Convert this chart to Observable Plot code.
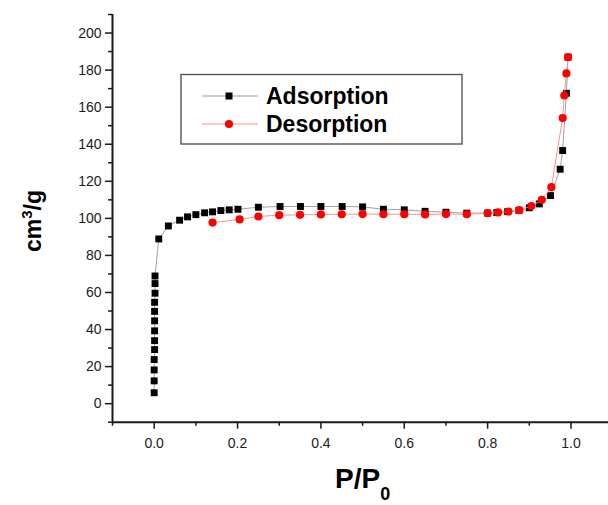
<!DOCTYPE html>
<html>
<head>
<meta charset="utf-8">
<script src="https://cdn.jsdelivr.net/npm/d3@7"></script>
<script src="https://cdn.jsdelivr.net/npm/@observablehq/plot@0.6"></script>
<style>
  html, body { margin: 0; padding: 0; background: #fff; overflow: hidden; }
  #chart { width: 608px; height: 505px; }
</style>
</head>
<body>
<div id="chart"></div>
<script>
// Adsorption branch (P/P0, cm3/g)
const adsP = [0.000,0.000,0.000,0.000,0.001,0.001,0.001,0.001,0.001,0.001,0.002,0.002,0.002,
  0.011,0.034,0.061,0.080,0.100,0.121,0.140,0.160,0.180,0.201,0.250,0.302,0.351,0.400,0.451,
  0.500,0.550,0.600,0.650,0.700,0.750,0.800,0.822,0.848,0.875,0.900,0.924,0.951,0.974,0.980,0.989,0.993];
const adsV = [5.9,12.3,18.2,23.8,29.2,34.0,39.3,44.7,49.8,54.7,59.6,64.8,68.9,
  88.9,95.9,99.0,100.8,102.0,103.0,103.5,104.2,104.6,104.9,106.0,106.4,106.4,106.4,106.4,
  106.2,104.9,104.6,103.8,103.3,102.8,102.8,103.1,103.6,104.3,105.7,107.8,112.3,126.5,136.6,167.5,187.0];
// Desorption branch
const desP = [0.993,0.989,0.984,0.980,0.953,0.930,0.905,0.876,0.850,0.825,0.800,0.750,0.700,0.650,
  0.600,0.550,0.500,0.450,0.400,0.350,0.300,0.250,0.205,0.140];
const desV = [187.0,178.2,166.3,154.1,116.8,110.0,106.6,104.4,103.7,103.2,102.8,102.2,102.3,102.1,
  102.2,102.2,102.3,102.2,102.1,101.9,101.7,101.0,99.4,97.7];

const xMajor = [0, 0.2, 0.4, 0.6, 0.8, 1.0];
const xMinor = [-0.1, 0.1, 0.3, 0.5, 0.7, 0.9];
const yMajor = [0, 20, 40, 60, 80, 100, 120, 140, 160, 180, 200];
const yMinor = [-10, 10, 30, 50, 70, 90, 110, 130, 150, 170, 190, 210];
const seriesNames = ["Adsorption", "Desorption"];

const ads = adsP.map((p, i) => ({p, v: adsV[i]}));
const des = desP.map((p, i) => ({p, v: desV[i]}));

const font = "'Liberation Sans', Arial, sans-serif";
const ink = "#1a1a1a";

const svg = Plot.plot({
  width: 608,
  height: 505,
  marginLeft: 112,
  marginRight: 0,
  marginTop: 14,
  marginBottom: 83.3,
  style: {fontFamily: font, fontSize: "14px", color: ink, background: "#fff", overflow: "hidden"},
  x: {domain: [-0.1, 1.09]},
  y: {domain: [-10, 210]},
  marks: [
    Plot.axisX(xMajor, {tickSize: 7, tickPadding: 9, tickFormat: d3.format(".1f"), label: null, fontSize: 14, stroke: ink, strokeWidth: 1.5}),
    Plot.axisX(xMinor, {tickSize: 4, tickFormat: () => "", label: null, stroke: ink, strokeWidth: 1.5}),
    Plot.axisY(yMajor, {tickSize: 7, tickPadding: 4, tickFormat: d3.format("d"), label: null, fontSize: 14, stroke: ink, strokeWidth: 1.5}),
    Plot.axisY(yMinor, {tickSize: 4, tickFormat: () => "", label: null, stroke: ink, strokeWidth: 1.5}),
    Plot.ruleY([-10], {stroke: ink, strokeWidth: 2}),
    Plot.ruleX([-0.1], {stroke: ink, strokeWidth: 2}),
    Plot.line(ads, {x: "p", y: "v", stroke: "#a0a0a0", strokeWidth: 1}),
    Plot.dot(ads, {x: "p", y: "v", symbol: "square", r: 3.9, fill: "#000", stroke: "none"}),
    Plot.line(des, {x: "p", y: "v", stroke: "#ff9090", strokeWidth: 1}),
    Plot.dot(des, {x: "p", y: "v", symbol: "circle", r: 4.1, fill: "#ff0000", stroke: "none"})
  ]
});

const s = d3.select(svg);

// Legend box
const lg = s.append("g").attr("font-family", font).attr("text-anchor", "start");
lg.append("rect").attr("x", 181).attr("y", 74.5).attr("width", 281).attr("height", 69.5)
  .attr("fill", "#fff").attr("stroke", "#555").attr("stroke-width", 1.4);
const rows = [
  {name: seriesNames[0], y: 96, line: "#a0a0a0", fill: "#000", shape: "square"},
  {name: seriesNames[1], y: 124, line: "#ff9090", fill: "#ff0000", shape: "circle"}
];
rows.forEach(r => {
  lg.append("line").attr("x1", 202).attr("x2", 258).attr("y1", r.y).attr("y2", r.y)
    .attr("stroke", r.line).attr("stroke-width", 1.2);
  if (r.shape === "square") {
    lg.append("rect").attr("x", 225.5).attr("y", r.y - 3.5).attr("width", 7).attr("height", 7).attr("fill", r.fill);
  } else {
    lg.append("circle").attr("cx", 229).attr("cy", r.y).attr("r", 4.1).attr("fill", r.fill);
  }
  lg.append("text").attr("x", 266).attr("y", r.y).attr("dy", "0.36em")
    .attr("text-anchor", "start")
    .attr("font-size", 23).attr("font-weight", "bold").attr("fill", "#000").text(r.name);
});

// Y axis title: cm³/g
const yt = s.append("text").attr("font-family", font).attr("font-weight", "bold")
  .attr("font-size", 23).attr("fill", "#000")
  .attr("text-anchor", "middle")
  .attr("transform", "translate(41,221) rotate(-90)");
yt.append("tspan").text("cm");
yt.append("tspan").attr("font-size", 15).attr("dy", -9).text("3");
yt.append("tspan").attr("dy", 9).text("/g");

// X axis title: P/P0
const xt = s.append("text").attr("font-family", font).attr("font-weight", "bold")
  .attr("font-size", 28).attr("fill", "#000")
  .attr("text-anchor", "start")
  .attr("x", 335).attr("y", 488);
xt.append("tspan").text("P/P");
xt.append("tspan").attr("font-size", 18).attr("dy", 12).text("0");

document.getElementById("chart").appendChild(svg);
</script>
</body>
</html>
